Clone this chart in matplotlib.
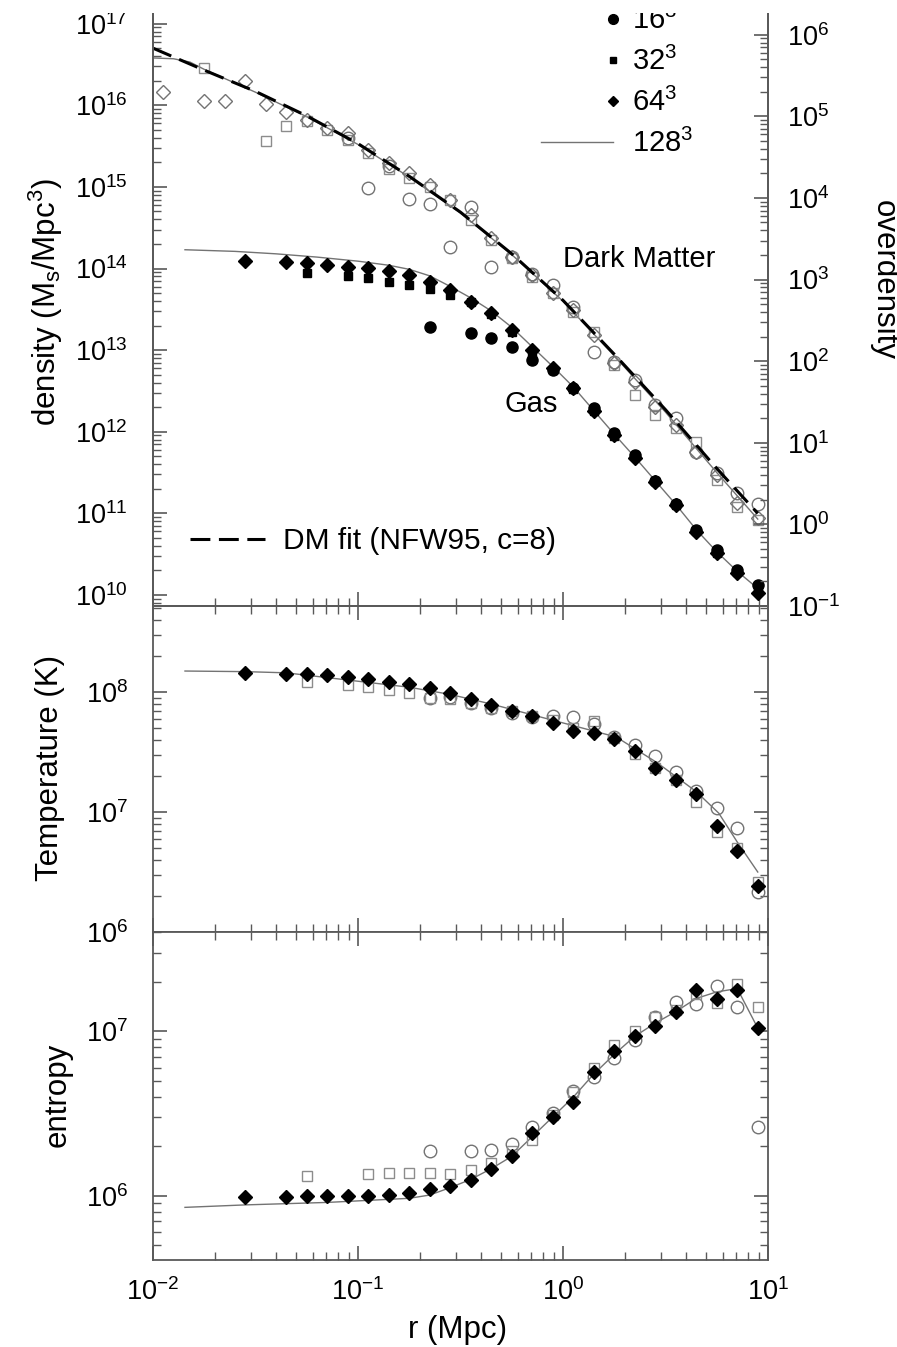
import numpy as np
import matplotlib
matplotlib.use('Agg')
import matplotlib.pyplot as plt
from matplotlib.lines import Line2D
from matplotlib.patches import Rectangle
from matplotlib.ticker import LogLocator, NullFormatter

plt.rcParams['font.family'] = ['Liberation Sans', 'DejaVu Sans']
plt.rcParams['mathtext.fontset'] = 'custom'
plt.rcParams['mathtext.rm'] = 'Liberation Sans'
plt.rcParams['mathtext.it'] = 'Liberation Sans'
plt.rcParams['mathtext.bf'] = 'Liberation Sans:bold'
plt.rcParams['mathtext.default'] = 'regular'

nan = np.nan

# radial bins (Mpc), 0.1 dex wide
r_bins = [0.0112, 0.0141, 0.0178, 0.0224, 0.0282, 0.0355, 0.0447, 0.0562, 0.0708, 0.0891,
          0.112, 0.141, 0.178, 0.224, 0.282, 0.355, 0.447, 0.562, 0.708, 0.891,
          1.12, 1.41, 1.78, 2.24, 2.82, 3.55, 4.47, 5.62, 7.08, 8.91]

# log10 density of dark matter (Ms/Mpc^3)
dm16 = [nan, nan, nan, nan, nan, nan, nan, nan, nan, 15.60,
        14.99, 15.25, 14.85, 14.79, 14.26, 14.75, 14.02, 14.14, 13.93, 13.80,
        13.53, 12.98, 12.85, 12.63, 12.33, 12.17, 11.75, 11.49, 11.25, 11.12]
dm32 = [nan, nan, 16.46, nan, nan, 15.56, 15.75, 15.81, 15.70, 15.58,
        15.42, 15.22, 15.11, 15.00, 14.84, 14.60, 14.35, 14.13, 13.90, 13.70,
        13.47, 13.22, 12.82, 12.45, 12.21, 12.05, 11.875, 11.41, 11.08, 10.92]
dm64 = [16.165, nan, 16.05, 16.05, 16.30, 16.02, 15.92, 15.82, 15.72, 15.66,
        15.45, 15.29, 15.17, 15.02, 14.84, 14.66, 14.375, 14.14, 13.92, 13.70,
        13.49, 13.19, 12.84, 12.61, 12.30, 12.08, 11.75, 11.47, 11.13, 10.94]

# log10 gas density
gas16 = [nan, nan, nan, nan, nan, nan, nan, nan, nan, nan,
         nan, nan, nan, 13.28, nan, 13.21, 13.15, 13.04, 12.88, 12.76,
         12.54, 12.29, 11.99, 11.72, 11.40, 11.12, 10.80, 10.55, 10.31, 10.12]
gas32 = [nan, nan, nan, nan, nan, nan, nan, 13.94, nan, 13.91,
         13.885, 13.84, 13.80, 13.75, 13.68, 13.59, 13.44, 13.22, 12.96, 12.76,
         12.52, 12.25, 11.95, 11.70, 11.40, 11.10, 10.78, 10.52, 10.28, 10.05]
gas64 = [nan, nan, nan, nan, 14.09, nan, 14.08, 14.07, 14.04, 14.02,
         14.01, 13.97, 13.92, 13.84, 13.74, 13.59, 13.46, 13.25, 13.00, 12.78,
         12.53, 12.25, 11.96, 11.68, 11.385, 11.10, 10.77, 10.51, 10.27, 10.02]

# log10 temperature (K)
t16 = [nan, nan, nan, nan, nan, nan, nan, nan, nan, nan,
       nan, nan, nan, 7.95, 7.96, 7.91, 7.87, 7.825, 7.79, 7.80,
       7.79, 7.73, 7.625, 7.56, 7.47, 7.33, 7.175, 7.03, 6.87, 6.33]
t32 = [nan, nan, nan, nan, nan, nan, nan, 8.08, nan, 8.06,
       8.04, 8.02, 7.99, 7.95, 7.94, 7.91, 7.87, 7.84, 7.80, 7.77,
       7.70, 7.76, 7.62, 7.48, 7.37, 7.27, 7.08, 6.83, 6.70, 6.42]
t64 = [nan, nan, nan, nan, 8.158, nan, 8.15, 8.15, 8.14, 8.125,
       8.11, 8.085, 8.065, 8.03, 7.99, 7.94, 7.89, 7.84, 7.80, 7.74,
       7.675, 7.66, 7.61, 7.51, 7.37, 7.27, 7.15, 6.88, 6.675, 6.38]

# log10 entropy
s16 = [nan, nan, nan, nan, nan, nan, nan, nan, nan, nan,
       nan, nan, nan, 6.27, nan, 6.275, 6.28, 6.315, 6.42, 6.505,
       6.635, 6.72, 6.84, 6.95, 7.085, 7.18, 7.165, 7.275, 7.15, 6.42]
s32 = [nan, nan, nan, nan, nan, nan, nan, 6.12, nan, nan,
       6.13, 6.14, 6.14, 6.14, 6.135, 6.16, 6.20, 6.27, 6.34, 6.49,
       6.63, 6.78, 6.92, 7.00, 7.09, 7.13, 7.225, 7.17, 7.29, 7.15]
s64 = [nan, nan, nan, nan, 5.99, nan, 5.995, 6.00, 6.00, 6.00,
       6.00, 6.005, 6.02, 6.04, 6.06, 6.095, 6.165, 6.245, 6.38, 6.48,
       6.57, 6.755, 6.88, 6.97, 7.03, 7.12, 7.25, 7.195, 7.25, 7.02]

# 128^3 profiles and the NFW fit: (log10 r, log10 value)
fit_logr = [-2.0, -1.75, -1.5, -1.25, -1.0, -0.75, -0.5, -0.25, 0.0, 0.25, 0.5, 0.75, 0.95]
fit_dm = [16.70, 16.43, 16.17, 15.87, 15.53, 15.13, 14.69, 14.18, 13.61, 12.95, 12.27, 11.55, 11.0]

dm128_logr = [-2.0, -1.9, -1.82, -1.75, -1.5, -1.25, -1.0, -0.75, -0.5, -0.25, 0.0, 0.25, 0.5, 0.75, 0.95]
dm128 = [16.58, 16.57, 16.53, 16.44, 16.16, 15.86, 15.52, 15.12, 14.68, 14.17, 13.60, 12.93, 12.24, 11.50, 10.93]

gas128_logr = [-1.844, -1.6, -1.4, -1.2, -1.0, -0.85, -0.75, -0.65, -0.55, -0.45, -0.35, -0.25,
               -0.15, -0.05, 0.05, 0.15, 0.25, 0.35, 0.45, 0.55, 0.65, 0.75, 0.85, 0.95]
gas128 = [14.23, 14.21, 14.18, 14.14, 14.09, 14.04, 13.99, 13.91, 13.78, 13.64, 13.48, 13.28,
          13.04, 12.80, 12.55, 12.26, 11.97, 11.69, 11.40, 11.11, 10.80, 10.53, 10.29, 10.08]

t128_logr = [-1.844, -1.55, -1.35, -1.15, -0.95, -0.75, -0.55, -0.35, -0.15, 0.05, 0.26, 0.46,
             0.65, 0.76, 0.85, 0.95]
t128 = [8.175, 8.17, 8.16, 8.12, 8.08, 8.04, 7.98, 7.90, 7.81, 7.72, 7.625, 7.41,
        7.17, 6.99, 6.75, 6.50]

s128_logr = [-1.844, -1.55, -1.15, -0.75, -0.65, -0.55, -0.45, -0.35, -0.25, -0.15, -0.05, 0.05,
             0.15, 0.25, 0.35, 0.45, 0.55, 0.65, 0.75, 0.85, 0.95]
s128 = [5.93, 5.945, 5.96, 5.985, 6.005, 6.05, 6.10, 6.165, 6.24, 6.36, 6.48, 6.60,
        6.74, 6.86, 6.97, 7.05, 7.12, 7.20, 7.24, 7.26, 7.02]

overdensity_offset = 10.865  # log10(density / overdensity)

SPINE = '0.35'
GREY = '0.45'


def p10(a):
    return 10 ** np.asarray(a, dtype=float)


def style_axes(ax, ylo, yhi, xlabels=False):
    ax.set_xscale('log')
    ax.set_yscale('log')
    ax.set_xlim(1e-2, 1e1)
    ax.set_ylim(10 ** ylo, 10 ** yhi)
    for axis in (ax.xaxis, ax.yaxis):
        axis.set_major_locator(LogLocator(base=10, numticks=30))
        axis.set_minor_locator(LogLocator(base=10, subs=np.arange(2, 10), numticks=30))
        axis.set_minor_formatter(NullFormatter())
    ax.tick_params(which='both', direction='in', top=True, right=True, color=SPINE,
                   labelsize=19.5, labelcolor='black')
    ax.tick_params(which='major', length=10, width=1.2)
    ax.tick_params(which='minor', length=6, width=1.0)
    ax.tick_params(axis='y', pad=18)
    ax.tick_params(axis='x', pad=13, labelbottom=xlabels)
    for s in ax.spines.values():
        s.set_color(SPINE)
        s.set_linewidth(1.3)


W, H = 897, 1347
fig = plt.figure(figsize=(W / 100, H / 100), dpi=100)
left, right = 153, 768


def axes_px(top, bottom):
    return fig.add_axes([left / W, 1 - bottom / H, (right - left) / W, (bottom - top) / H])


ax1 = axes_px(0, 606)
ax2 = axes_px(606, 932)
ax3 = axes_px(932, 1260)

r = np.array(r_bins)
open_c = dict(marker='o', ls='none', mfc='none', mec=GREY, mew=1.0, ms=9)
open_s = dict(marker='s', ls='none', mfc='none', mec='0.55', mew=1.0, ms=7)
open_d = dict(marker='D', ls='none', mfc='none', mec=GREY, mew=1.0, ms=7)
fill_c = dict(marker='o', ls='none', color='black', ms=8)
fill_s = dict(marker='s', ls='none', color='black', ms=6)
fill_d = dict(marker='D', ls='none', color='black', ms=7.5)
thin = dict(color=GREY, lw=1.0)

# density panel
style_axes(ax1, 9.865, 17.29)
ax1.spines['top'].set_visible(False)
ax1.tick_params(which='both', top=False, right=False)
ax1.plot(p10(dm128_logr), p10(dm128), **thin)
ax1.plot(p10(gas128_logr), p10(gas128), **thin)
ax1.plot(r, p10(dm16), **open_c)
ax1.plot(r, p10(dm32), **open_s)
ax1.plot(r, p10(dm64), **open_d)
ax1.plot(r, p10(gas16), **fill_c)
ax1.plot(r, p10(gas32), **fill_s)
ax1.plot(r, p10(gas64), **fill_d)
ax1.plot(p10(fit_logr), p10(fit_dm), color='black', lw=2.2, dashes=(6.5, 2.8))

ax1r = ax1.twinx()
ax1r.set_yscale('log')
ax1r.set_ylim(10 ** (9.865 - overdensity_offset), 10 ** (17.29 - overdensity_offset))
ax1r.yaxis.set_major_locator(LogLocator(base=10, numticks=30))
ax1r.yaxis.set_minor_locator(LogLocator(base=10, subs=np.arange(2, 10), numticks=30))
ax1r.yaxis.set_minor_formatter(NullFormatter())
ax1r.tick_params(which='both', direction='in', color=SPINE, labelsize=19.5, pad=14)
ax1r.tick_params(which='major', length=10, width=1.2)
ax1r.tick_params(which='minor', length=6, width=1.0)
for s in ax1r.spines.values():
    s.set_color(SPINE)
    s.set_linewidth(1.3)
ax1r.spines['top'].set_visible(False)

ax1.text(0.667, 0.572, 'Dark Matter', transform=ax1.transAxes, fontsize=21,
         ha='left', va='center')
ax1.text(0.572, 0.333, 'Gas', transform=ax1.transAxes, fontsize=21,
         ha='left', va='center')

# legends
fs = 21
em = fs * 100 / 72
sym_handles = [Line2D([], [], marker='o', ls='none', color='black', ms=7),
               Line2D([], [], marker='s', ls='none', color='black', ms=5),
               Line2D([], [], marker='D', ls='none', color='black', ms=5.5)]
leg1 = ax1.legend(sym_handles, ['16$^3$', '32$^3$', '64$^3$'], loc='upper left',
                  bbox_to_anchor=(607 / W, 1 - 6 / H), bbox_transform=fig.transFigure,
                  frameon=False, fontsize=fs, handlelength=12 / em, handletextpad=13 / em,
                  borderpad=0, borderaxespad=0, labelspacing=0.4)
ax1.add_artist(leg1)
leg2 = ax1.legend([Line2D([], [], **thin)], ['128$^3$'], loc='upper left',
                  bbox_to_anchor=(541 / W, 1 - 129 / H), bbox_transform=fig.transFigure,
                  frameon=False, fontsize=fs, handlelength=72 / em, handletextpad=19 / em,
                  borderpad=0, borderaxespad=0)
ax1.add_artist(leg2)
fit_handle = Line2D([], [], color='black', lw=2.2, dashes=(6.5, 2.8))
ax1.legend([fit_handle], ['DM fit (NFW95, c=8)'], loc='upper left',
           bbox_to_anchor=(190 / W, 1 - 527 / H), bbox_transform=fig.transFigure,
           frameon=False, fontsize=21.5, handlelength=75 / (21.5 * 100 / 72),
           handletextpad=18 / (21.5 * 100 / 72), borderpad=0, borderaxespad=0)

# temperature panel
style_axes(ax2, 6.0, 8.717)
ax2.plot(p10(t128_logr), p10(t128), **thin)
ax2.plot(r, p10(t16), **open_c)
ax2.plot(r, p10(t32), **open_s)
ax2.plot(r, p10(t64), **fill_d)

# entropy panel
style_axes(ax3, 5.61, 7.604, xlabels=True)
ax3.plot(p10(s128_logr), p10(s128), **thin)
ax3.plot(r, p10(s16), **open_c)
ax3.plot(r, p10(s32), **open_s)
ax3.plot(r, p10(s64), **fill_d)

# axis titles
lab = 22.5
fig.text(46 / W, 1 - 302 / H, 'density (M$_s$/Mpc$^3$)', rotation=90, fontsize=lab,
         ha='center', va='center')
fig.text(50 / W, 1 - 768 / H, 'Temperature (K)', rotation=90, fontsize=lab,
         ha='center', va='center')
fig.text(58 / W, 1 - 1095 / H, 'entropy', rotation=90, fontsize=lab,
         ha='center', va='center')
fig.text(884 / W, 1 - 280 / H, 'overdensity', rotation=270, fontsize=lab,
         ha='center', va='center')
fig.text(458 / W, 1 - 1330 / H, 'r (Mpc)', fontsize=lab, ha='center', va='center')

# the original is cut off just above the top panel
fig.patches.append(Rectangle((0, 1 - 13 / H), 1, 13 / H, transform=fig.transFigure,
                             facecolor='white', edgecolor='none', zorder=20))

fig.savefig('out.png', dpi=100)
